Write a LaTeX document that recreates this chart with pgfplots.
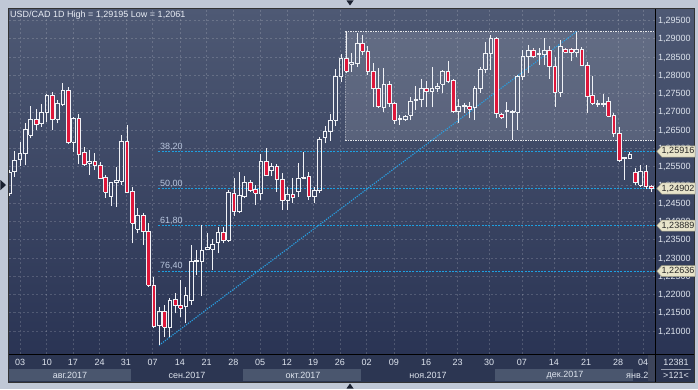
\documentclass[border=0pt]{standalone}
\usepackage{fontspec}
\setmainfont{Liberation Sans}
\usepackage{pgfplots}
\usepackage{pgfplotstable}
\pgfplotsset{compat=1.18}

\definecolor{outerbg}{RGB}{192,200,214}
\definecolor{panel}{RGB}{42,52,80}
\definecolor{bgtop}{RGB}{78,89,116}
\definecolor{bgbot}{RGB}{42,52,84}
\definecolor{rowdark}{RGB}{44,54,82}
\definecolor{bandlight}{RGB}{74,86,110}
\definecolor{labcol}{RGB}{222,228,238}
\definecolor{titlecol}{RGB}{232,236,244}
\definecolor{candred}{RGB}{222,22,58}
\definecolor{wick}{RGB}{240,242,246}
\definecolor{fibcol}{RGB}{30,160,225}
\definecolor{fiblab}{RGB}{185,198,222}
\definecolor{trendcol}{RGB}{40,160,226}
\definecolor{badge}{RGB}{232,228,202}
\definecolor{badgeedge}{RGB}{150,148,125}
\definecolor{tri}{RGB}{25,32,48}

\newcommand\nine{\fontsize{9bp}{10.5bp}\selectfont}

\pgfplotstableread{
i O H L C
0 1.24778 1.25407 1.24696 1.25353
1 1.25361 1.25927 1.25224 1.25681
2 1.25708 1.26182 1.25517 1.25864
3 1.25859 1.26694 1.25544 1.26530
4 1.26352 1.27159 1.26275 1.26803
6 1.26675 1.27214 1.26593 1.26981
7 1.26981 1.27488 1.26730 1.27460
9 1.26795 1.27324 1.26686 1.27233
10 1.27214 1.27781 1.27167 1.27597
12 1.26174 1.26866 1.25908 1.26823
15 1.25591 1.25955 1.25270 1.25634
19 1.24696 1.25087 1.24430 1.25079
20 1.25071 1.25489 1.24403 1.25125
21 1.25106 1.26365 1.24997 1.26182
24 1.23792 1.24359 1.23674 1.24175
28 1.21164 1.21665 1.20610 1.21528
30 1.21101 1.21895 1.20844 1.21849
33 1.21665 1.22213 1.21211 1.21985
34 1.21849 1.23354 1.21712 1.22897
35 1.22897 1.23217 1.22533 1.22924
36 1.22897 1.23902 1.21958 1.23217
37 1.23245 1.23674 1.23217 1.23286
38 1.23245 1.23510 1.22670 1.23373
39 1.23417 1.23839 1.23127 1.23691
41 1.23491 1.24860 1.23436 1.24786
43 1.24266 1.25361 1.24222 1.24723
44 1.24676 1.25251 1.24633 1.25071
47 1.24769 1.25845 1.24586 1.25634
49 1.25388 1.25591 1.25243 1.25517
52 1.24586 1.24950 1.24312 1.24750
54 1.24832 1.25591 1.24676 1.25180
55 1.25188 1.25908 1.25153 1.25216
57 1.24676 1.24950 1.24496 1.24860
58 1.24841 1.26319 1.24769 1.26248
59 1.26302 1.26612 1.26138 1.26456
60 1.26456 1.26940 1.26209 1.26776
61 1.26776 1.28164 1.26612 1.27967
62 1.27961 1.28575 1.27816 1.28465
64 1.28309 1.28602 1.28098 1.28345
65 1.28328 1.29149 1.28235 1.28876
70 1.27124 1.28191 1.27003 1.27753
73 1.26790 1.26913 1.26639 1.26817
74 1.26795 1.26913 1.26757 1.26866
75 1.26913 1.27414 1.26776 1.27296
76 1.27304 1.27707 1.27049 1.27351
77 1.27343 1.27890 1.27124 1.27644
79 1.27551 1.28235 1.27124 1.27644
80 1.27644 1.27796 1.27551 1.27707
81 1.27761 1.28145 1.27507 1.28098
84 1.27003 1.27343 1.26702 1.27159
87 1.27113 1.27707 1.26776 1.27644
88 1.27644 1.28235 1.27523 1.28172
89 1.28172 1.28920 1.28054 1.28602
90 1.28602 1.29103 1.28145 1.29013
93 1.27014 1.27277 1.26549 1.27031
94 1.26987 1.27049 1.26229 1.27022
95 1.26987 1.28008 1.26502 1.27980
96 1.27980 1.28692 1.27871 1.28509
97 1.28509 1.28829 1.28054 1.28692
99 1.28569 1.28755 1.28282 1.28583
100 1.28575 1.29013 1.28282 1.28692
103 1.27534 1.28966 1.27414 1.28802
106 1.28629 1.29195 1.28509 1.28720
110 1.27206 1.27324 1.27140 1.27222
111 1.27214 1.27488 1.27140 1.27222
116 1.25727 1.25908 1.25708 1.25845
118 1.24997 1.25544 1.24950 1.25361
}\bull

\pgfplotstableread{
i O H L C
5 1.26795 1.27077 1.26502 1.26658
8 1.27460 1.27551 1.26502 1.26795
11 1.27597 1.27687 1.26119 1.26174
13 1.26823 1.26932 1.25563 1.25845
14 1.25892 1.26045 1.25525 1.25563
16 1.25634 1.25864 1.25407 1.25544
17 1.25544 1.25618 1.25161 1.25180
18 1.25197 1.25270 1.24649 1.24797
22 1.26182 1.26639 1.24769 1.24786
23 1.24813 1.24950 1.23401 1.23948
25 1.24175 1.24230 1.23354 1.23737
26 1.23718 1.23948 1.22213 1.22259
27 1.22259 1.22486 1.21074 1.21118
29 1.21528 1.21712 1.20844 1.21101
31 1.21868 1.22032 1.21484 1.21692
32 1.21712 1.22396 1.21391 1.21621
40 1.23691 1.23855 1.23401 1.23491
42 1.24769 1.25180 1.24148 1.24266
45 1.25071 1.25134 1.24813 1.24860
46 1.24879 1.24997 1.24449 1.24769
48 1.25634 1.26018 1.25243 1.25270
50 1.25517 1.25572 1.24813 1.25153
51 1.25153 1.25317 1.24312 1.24586
53 1.24750 1.25180 1.24496 1.24660
56 1.25243 1.25361 1.24586 1.24676
63 1.28465 1.29193 1.28054 1.28109
66 1.28876 1.29103 1.28555 1.28657
67 1.28651 1.28810 1.28008 1.28098
68 1.28098 1.28328 1.27140 1.27644
69 1.27644 1.28191 1.27104 1.27140
71 1.27753 1.27844 1.27140 1.27233
72 1.27233 1.27261 1.26667 1.26776
78 1.27644 1.27844 1.27124 1.27551
82 1.28098 1.28391 1.27781 1.27824
83 1.27871 1.27898 1.26976 1.27003
85 1.27187 1.27233 1.26959 1.27140
86 1.27140 1.27261 1.26823 1.27077
91 1.29013 1.29048 1.26823 1.26959
92 1.26932 1.26959 1.26803 1.26850
98 1.28692 1.28755 1.28481 1.28509
101 1.28692 1.28810 1.27898 1.28235
102 1.28235 1.28509 1.27140 1.27534
104 1.28720 1.28755 1.28602 1.28629
105 1.28720 1.28747 1.28391 1.28629
107 1.28720 1.28783 1.28262 1.28282
108 1.28282 1.28356 1.26976 1.27414
109 1.27441 1.27989 1.27187 1.27233
112 1.27277 1.27414 1.26850 1.26886
113 1.26913 1.26959 1.26319 1.26412
114 1.26412 1.26584 1.25634 1.25681
115 1.25744 1.25763 1.25134 1.25727
117 1.25333 1.25454 1.24997 1.25060
119 1.25361 1.25544 1.24879 1.24969
120 1.24969 1.24997 1.24813 1.24902
}\bear

\pgfplotsset{
  wickstyle/.style={draw=none, mark=none, forget plot,
    error bars/.cd, y dir=plus, y explicit, error mark=none,
    error bar style={draw=wick, line width=0.9bp, solid}},
  bearbody/.style={forget plot, mark=none, draw=wick, fill=candred, line width=0.8bp, line join=miter, solid},
  bullbody/.style={forget plot, mark=none, draw=wick, fill=none, line width=0.8bp, line join=miter, solid},
}

% build one body polygon per candle from the table rows
\newcommand\buildbodies[3]{%
  \pgfplotstablegetrowsof{#1}%
  \pgfmathtruncatemacro\nrows{\pgfplotsretval-1}%
  \gdef#3{}%
  \pgfplotsforeachungrouped \r in {0,...,\nrows}{%
    \pgfplotstablegetelem{\r}{i}\of#1\let\ci\pgfplotsretval
    \pgfplotstablegetelem{\r}{O}\of#1\let\cO\pgfplotsretval
    \pgfplotstablegetelem{\r}{C}\of#1\let\cC\pgfplotsretval
    \pgfmathsetmacro\xl{\ci-0.345}%
    \pgfmathsetmacro\xr{\ci+0.345}%
    \pgfmathsetmacro\cM{(\cO+\cC)/2}%
    \pgfmathsetmacro\hh{max(abs(\cC-\cO)/2,0.00016)}%
    \pgfmathsetmacro\lo{\cM-\hh}%
    \pgfmathsetmacro\hi{\cM+\hh}%
    \xdef#3{\unexpanded\expandafter{#3}\noexpand\addplot[#2] coordinates {(\xl,\lo) (\xr,\lo) (\xr,\hi) (\xl,\hi) (\xl,\lo)};}%
  }%
}
\buildbodies{\bear}{bearbody}{\bearbodies}
\buildbodies{\bull}{bullbody}{\bullbodies}

\begin{document}
\begin{tikzpicture}
\begin{scope}[x=1bp,y=1bp]
\fill[outerbg] (0,0) rectangle (698,389);
\fill[panel] (8,7) rectangle (694,381);
\shade[top color=bgtop, bottom color=bgbot] (655,35) rectangle (694,380);
\fill[rowdark] (8,7) rectangle (655,35);
\fill[bandlight] (9,8) rectangle (131,20);
\fill[bandlight] (243,8) rectangle (361,20);
\fill[bandlight] (495,8) rectangle (633,20);
\node[font=\nine, text=labcol] at (70,14) {авг.2017};
\node[font=\nine, text=labcol] at (187,14) {сен.2017};
\node[font=\nine, text=labcol] at (303,14) {окт.2017};
\node[font=\nine, text=labcol] at (428,14) {ноя.2017};
\node[font=\nine, text=labcol] at (565,14) {дек.2017};
\node[font=\nine, text=labcol, anchor=west, inner sep=0pt] at (626,14) {янв.20};
\end{scope}

\begin{axis}[
  at={(9bp,35bp)}, anchor=south west,
  width=646bp, height=345bp, scale only axis,
  xmin=-0.06, xmax=120.69, ymin=1.2037, ymax=1.29815,
  axis line style={draw=none},
  axis background/.style={top color=bgtop, bottom color=bgbot},
  tick style={draw=none},
  major tick length=0pt,
  grid=major,
  major grid style={draw=white, draw opacity=0.17, line width=0.6bp, dash pattern=on 2bp off 2.5bp},
  xtick={2,7,11.9,16.9,21.8,26.8,31.9,36.9,41.9,46.9,51.9,56.8,61.8,66.8,71.9,77.9,83.8,89.7,95.8,101.8,107.8,113.8,118.45},
  xticklabels={03,10,17,24,31,07,14,21,28,05,12,19,26,02,09,16,23,30,07,14,21,28,04},
  ytick={1.21,1.215,1.22,1.225,1.23,1.235,1.24,1.245,1.25,1.255,1.26,1.265,1.27,1.275,1.28,1.285,1.29,1.295},
  scaled y ticks=false,
  yticklabel pos=right,
  yticklabel={\pgfmathprintnumber[fixed,fixed zerofill,precision=5,use comma,assume math mode=true]{\tick}},
  tick label style={font=\nine, text=labcol},
  yticklabel style={anchor=west, inner sep=0pt, xshift=3bp, text depth=0pt},
  xticklabel style={anchor=center, yshift=-8.7bp, text depth=0pt},
  clip=true,
]
% channel
\fill[white, fill opacity=0.13] (axis cs:62.8,1.26228) rectangle (axis cs:120.69,1.29195);
\draw[white, opacity=0.85, line width=0.8bp, dash pattern=on 1.3bp off 1.2bp] (axis cs:62.8,1.29195) -- (axis cs:120.69,1.29195);
\draw[white, opacity=0.85, line width=0.8bp, dash pattern=on 1.3bp off 1.2bp] (axis cs:62.8,1.26228) -- (axis cs:120.69,1.26228);
\draw[white, opacity=0.35, line width=0.6bp, dash pattern=on 1.3bp off 1.2bp] (axis cs:62.8,1.26228) -- (axis cs:62.8,1.29195);

% Fibonacci levels
\addplot[fibcol, line width=0.9bp, dash pattern=on 2bp off 1.3bp, forget plot] coordinates {(27.85,1.25916) (120.69,1.25916)};
\addplot[fibcol, line width=0.9bp, dash pattern=on 2bp off 1.3bp, forget plot] coordinates {(27.85,1.24902) (120.69,1.24902)};
\addplot[fibcol, line width=0.9bp, dash pattern=on 2bp off 1.3bp, forget plot] coordinates {(27.85,1.23889) (120.69,1.23889)};
\addplot[fibcol, line width=0.9bp, dash pattern=on 2bp off 1.3bp, forget plot] coordinates {(27.85,1.22636) (120.69,1.22636)};
\node[anchor=base west, inner sep=0pt, font=\nine, text=fiblab] at (axis cs:28.17,1.25916) [yshift=2.4bp] {38,20};
\node[anchor=base west, inner sep=0pt, font=\nine, text=fiblab] at (axis cs:28.17,1.24902) [yshift=2.4bp] {50,00};
\node[anchor=base west, inner sep=0pt, font=\nine, text=fiblab] at (axis cs:28.17,1.23889) [yshift=2.4bp] {61,80};
\node[anchor=base west, inner sep=0pt, font=\nine, text=fiblab] at (axis cs:28.17,1.22636) [yshift=2.4bp] {76,40};

% trend line
\addplot[trendcol, line width=1.15bp, dash pattern=on 1.2bp off 1.2bp, forget plot] coordinates {(28,1.2061) (106,1.29195)};

% wicks
\addplot[wickstyle] table[x=i, y=L, y error expr={\thisrow{H}-\thisrow{L}}] {\bear};
\addplot[wickstyle] table[x=i, y=C, y error expr={\thisrow{H}-\thisrow{C}}] {\bull};
\addplot[wickstyle] table[x=i, y=L, y error expr={\thisrow{O}-\thisrow{L}}] {\bull};

% bodies
\bearbodies
\bullbodies
\end{axis}

\begin{scope}[x=1bp,y=1bp]
\fill[rowdark!80!gray] (648,8) rectangle (655,34.5);
\draw[black, line width=1bp] (655.5,7) -- (655.5,381);
\draw[black, line width=1bp] (8,34.5) -- (694,34.5);
\draw[black!80, line width=0.8bp] (8,7) rectangle (694,381);
\foreach \yy/\txt in {237.6/{1,25916}, 200.5/{1,24902}, 163.4/{1,23889}, 117.9/{1,22636}}{
  \filldraw[fill=badge, draw=badgeedge, line width=0.5bp]
    (656.8,\yy) -- (661.8,\yy+5.6) -- (695,\yy+5.6) -- (695,\yy-5.6) -- (661.8,\yy-5.6) -- cycle;
  \node[font=\nine, text=black!85, inner sep=0pt] at (678,\yy) {\txt};
}
\node[font=\nine, text=labcol] at (676,26.5) {12381};
\draw[labcol!60!panel, line width=0.5bp] (661,20) -- (691,20);
\node[font=\nine, text=labcol] at (676,14) {>121<};
\node[anchor=west, font=\nine, text=titlecol, inner sep=0pt] at (10,374.3) {USD/CAD 1D High = 1,29195 Low = 1,2061};
\fill[tri] (346.5,388.5) -- (353.5,388.5) -- (350,383.5) -- cycle;
\fill[tri] (346.5,0.5) -- (353.5,0.5) -- (350,5.5) -- cycle;
\fill[tri] (0.5,209) -- (0.5,199) -- (6,204) -- cycle;
\end{scope}
\end{tikzpicture}
\end{document}
